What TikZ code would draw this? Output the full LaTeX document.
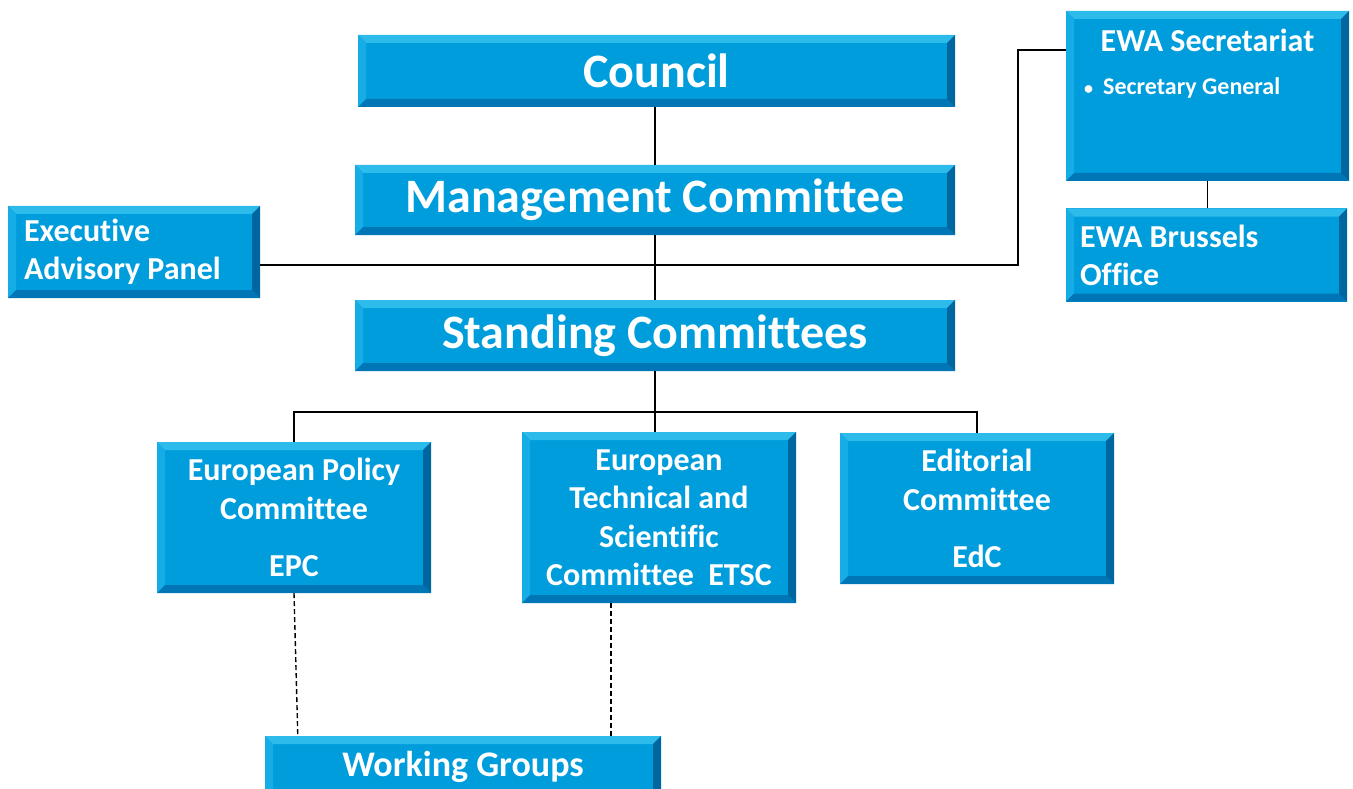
\documentclass[tikz,border=0pt]{standalone}
\usepackage{fontspec}
\setmainfont{Carlito}[Ligatures=NoCommon]
\usepackage{tikz}
\usetikzlibrary{positioning,calc}

\definecolor{ewablue}{RGB}{0,157,221}
\definecolor{ewatop}{RGB}{45,187,236}
\definecolor{ewaleft}{RGB}{22,172,230}
\definecolor{ewabot}{RGB}{0,118,182}
\definecolor{ewaright}{RGB}{0,102,160}

\tikzset{
  bevel/.style={path picture={
    \coordinate (pnw) at (path picture bounding box.north west);
    \coordinate (pne) at (path picture bounding box.north east);
    \coordinate (psw) at (path picture bounding box.south west);
    \coordinate (pse) at (path picture bounding box.south east);
    \fill[ewatop] (pnw) -- (pne) -- ([xshift=-8pt,yshift=-8pt]pne) -- ([xshift=8pt,yshift=-8pt]pnw) -- cycle;
    \fill[ewaleft] (pnw) -- ([xshift=8pt,yshift=-8pt]pnw) -- ([xshift=8pt,yshift=8pt]psw) -- (psw) -- cycle;
    \fill[ewabot] (psw) -- (pse) -- ([xshift=-8pt,yshift=8pt]pse) -- ([xshift=8pt,yshift=8pt]psw) -- cycle;
    \fill[ewaright] (pne) -- ([xshift=-8pt,yshift=-8pt]pne) -- ([xshift=-8pt,yshift=8pt]pse) -- (pse) -- cycle;
  }},
  orgbox/.style={rectangle, fill=ewablue, bevel, text=white, inner sep=0pt},
  bigbox/.style={orgbox, font=\fontsize{48}{58}\selectfont\bfseries},
  cttbox/.style={orgbox, minimum width=274pt, text width=274pt, align=flush center, font=\fontsize{32}{38.5}\selectfont\bfseries},
  link/.style={draw=black, line width=1.6pt},
  wglink/.style={draw=black, line width=1.4pt, dash pattern=on 5pt off 3pt}
}

\begin{document}
\begin{tikzpicture}[x=1pt, y=-1pt]
    \clip (0,0) rectangle (1353,789);
    \useasboundingbox (0,0) rectangle (1353,789);

    % top of the organisation
    \node[bigbox, minimum width=597pt, minimum height=72pt] (council) at (656.5,71) {Council};
    \node[bigbox, minimum width=600pt, minimum height=70pt] (mgmt) at (655,200) {Management Committee};
    \node[bigbox, minimum width=600pt, minimum height=71pt] (standing) at (655,335.5) {Standing Committees};

    % side boxes
    \node[orgbox, minimum width=252pt, minimum height=92pt, text width=220pt, align=flush left,
          font=\fontsize{32}{38}\selectfont\bfseries] (panel) at (134,252) {Executive\\Advisory Panel};
    \node[orgbox, minimum width=283pt, minimum height=170pt] (secr) at (1207.5,96) {};
    \node[text=white, font=\fontsize{32}{38}\selectfont\bfseries] (secrtitle) at (1207.5,40) {EWA Secretariat};
    \node[text=white, anchor=west, inner sep=0pt, font=\fontsize{24}{28}\selectfont\bfseries]
          (secrgen) at (1084,88) {{\fontsize{18}{20}\selectfont\textbullet}\hspace{10pt}Secretary General};
    \node[orgbox, minimum width=281pt, minimum height=93pt, text width=253pt, align=flush left,
          font=\fontsize{32}{38}\selectfont\bfseries] (brussels) at (1206.5,255) {EWA Brussels\\Office};

    % standing committees
    \node[cttbox, minimum height=151pt] (epc) at (294,517.5) {European Policy\\Committee\\[19pt]EPC};
    \node[cttbox, minimum height=171pt] (etsc) at (659,517.5) {European\\Technical and\\Scientific\\Committee~~ETSC};
    \node[cttbox, minimum height=151pt] (edc) at (977,508.5) {Editorial\\Committee\\[19pt]EdC};
    \node[orgbox, minimum width=396pt, minimum height=62pt, font=\fontsize{36}{42}\selectfont\bfseries]
          (wg) at (463,767) {Working Groups};

    % connectors
    \coordinate (bus) at (655,412);
    \coordinate (elbow) at (1018,0);
    \coordinate (panelout) at (260,265);
    \coordinate (secrin) at (1066,50);

    \draw[link] (council.south -| mgmt.north) -- (mgmt.north);
    \draw[link] (mgmt) -- (standing);
    \draw[link] (panelout) -- (panelout -| elbow) |- (secrin);
    \draw[link] (secr.south) -- (secr.south |- brussels.north);
    \draw[link] (standing.south) -- (bus);
    \draw[link] (bus) -| (epc.north);
    \draw[link] (bus) -| (edc.north);
    \draw[link] (bus) -- (bus |- etsc.north);
    \draw[wglink] (epc.south) -- ([xshift=33pt]wg.north west);
    \draw[wglink] ([xshift=-48pt]etsc.south) -- ([xshift=-48pt]etsc.south |- wg.north);
\end{tikzpicture}
\end{document}
